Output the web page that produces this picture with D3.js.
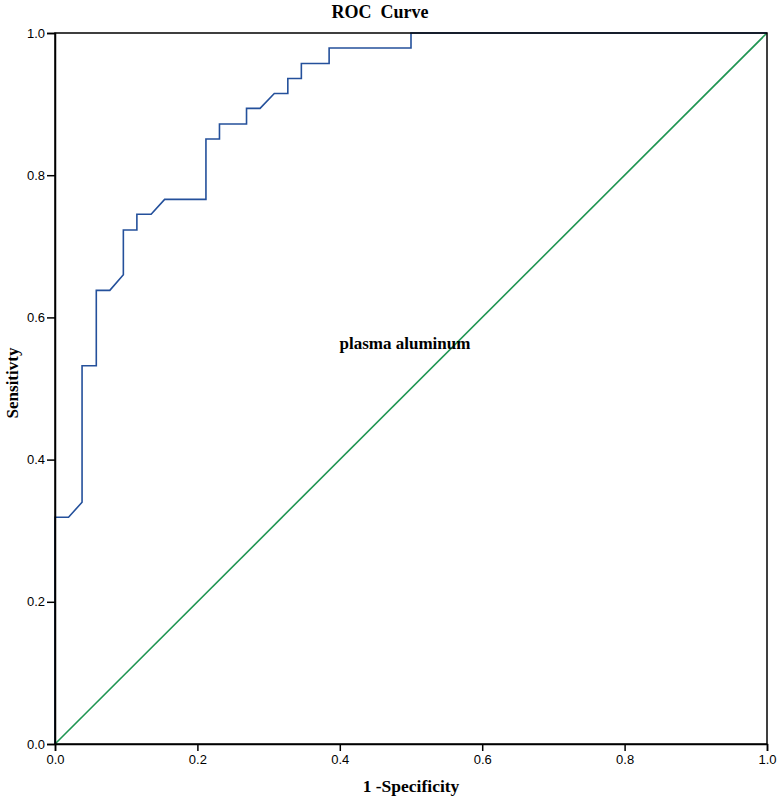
<!DOCTYPE html>
<html><head><meta charset="utf-8">
<script src="https://cdn.jsdelivr.net/npm/d3@7"></script>
<style>body{margin:0;background:#fff}</style>
</head><body>
<svg id="c" width="780" height="799"></svg>
<script>
const fpr = [0, 0, 0.019, 0.038, 0.038, 0.058, 0.058, 0.077, 0.096, 0.096, 0.115, 0.115, 0.135, 0.154, 0.212, 0.212, 0.231, 0.231, 0.269, 0.269, 0.288, 0.308, 0.327, 0.327, 0.346, 0.346, 0.385, 0.385, 0.5, 0.5, 1.0];
const tpr = [0, 0.319, 0.319, 0.340, 0.532, 0.532, 0.638, 0.638, 0.660, 0.723, 0.723, 0.745, 0.745, 0.766, 0.766, 0.851, 0.851, 0.872, 0.872, 0.894, 0.894, 0.915, 0.915, 0.936, 0.936, 0.957, 0.957, 0.979, 0.979, 1.0, 1.0];
const refX = [0, 1];
const refY = [0, 1];
const xTicks = [0, 0.2, 0.4, 0.6, 0.8, 1.0];
const yTicks = [0, 0.2, 0.4, 0.6, 0.8, 1.0];
const title = "ROC  Curve";
const xTitle = "1 -Specificity";
const yTitle = "Sensitivty";
const seriesLabel = "plasma aluminum";

const svg = d3.select("#c");
const m = {l:55, r:767, t:33, b:744};
const x = d3.scaleLinear().domain([0,1]).range([m.l, m.r]);
const y = d3.scaleLinear().domain([0,1]).range([m.b, m.t]);

const line = d3.line().x(d=>x(d[0])).y(d=>y(d[1]));
svg.append("path").datum(refX.map((v,i)=>[v, refY[i]]))
  .attr("d", line).attr("fill","none").attr("stroke","#1f9552").attr("stroke-width",1.6);
svg.append("path").datum(fpr.map((v,i)=>[v, tpr[i]]))
  .attr("d", line).attr("fill","none").attr("stroke","#24509b").attr("stroke-width",1.6);

// frame
svg.append("rect").attr("x",m.l).attr("y",m.t).attr("width",m.r-m.l).attr("height",m.b-m.t)
  .attr("fill","none").attr("stroke","#000").attr("stroke-width",1.5);

const xa = svg.append("g").attr("transform",`translate(0,${m.b})`)
  .call(d3.axisBottom(x).tickValues(xTicks).tickFormat(d3.format(".1f")).tickSizeOuter(0).tickSize(7).tickPadding(4));
const ya = svg.append("g").attr("transform",`translate(${m.l},0)`)
  .call(d3.axisLeft(y).tickValues(yTicks).tickFormat(d3.format(".1f")).tickSizeOuter(0).tickSize(8).tickPadding(2));
[xa, ya].forEach(a=>{
  a.select(".domain").attr("stroke","#000").attr("stroke-width",1.5);
  a.selectAll(".tick line").attr("stroke","#000").attr("stroke-width",1.5);
  a.selectAll(".tick text").attr("fill","#000").style("font-family","'Liberation Sans', Arial, sans-serif").style("font-size","13px");
});

const serif = "'Liberation Serif', 'DejaVu Serif', serif";
svg.append("text").attr("x",380).attr("y",18).attr("text-anchor","middle")
  .style("font-family",serif).style("font-weight","bold").style("font-size","18px").style("white-space","pre").text(title);
svg.append("text").attr("x",411).attr("y",792).attr("text-anchor","middle")
  .style("font-family",serif).style("font-weight","bold").style("font-size","17.5px").text(xTitle);
svg.append("text").attr("transform","translate(18,383) rotate(-90)").attr("text-anchor","middle")
  .style("font-family",serif).style("font-weight","bold").style("font-size","17px").text(yTitle);
svg.append("text").attr("x",405).attr("y",349).attr("text-anchor","middle")
  .style("font-family",serif).style("font-weight","bold").style("font-size","17px").text(seriesLabel);
</script>
</body></html>
